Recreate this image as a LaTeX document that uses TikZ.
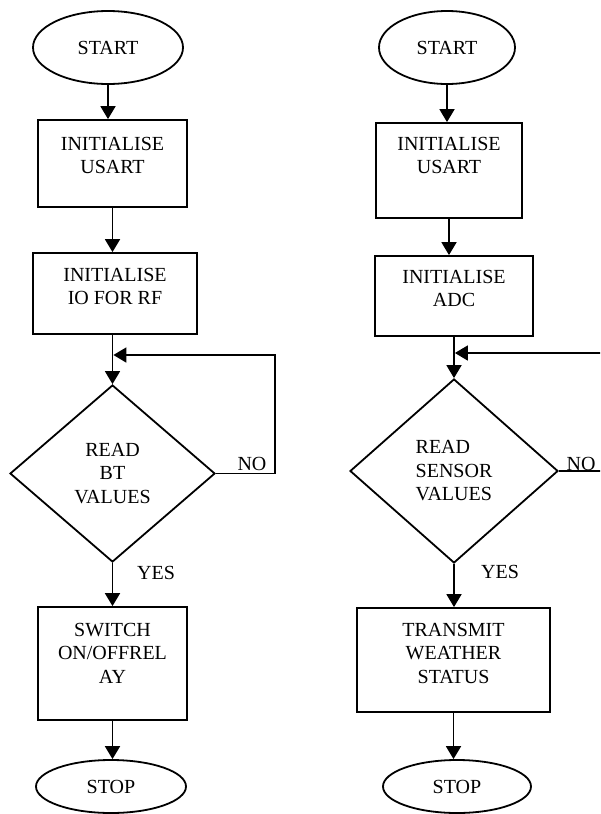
\documentclass[tikz,border=0pt]{standalone}
\usepackage{fontspec}
\setmainfont{Liberation Serif}
\usetikzlibrary{shapes,arrows.meta,positioning}

\begin{document}
\begin{tikzpicture}[x=1pt,y=-1pt,line width=1.8pt,
                    every node/.append style={font=\fontsize{20}{23.5}\selectfont},
                    term/.style={draw,ellipse,inner sep=0pt},
                    proc/.style={draw,rectangle,inner sep=0pt},
                    decide/.style={draw,diamond,inner sep=0pt},
                    intext/.style={anchor=north,align=center,inner sep=0pt,yshift=-#1},
                    intext/.default=15pt,
                    lbl/.style={inner sep=0pt},
                    arr/.style={-{Triangle[length=13pt,width=15pt]}}]
    \clip (0,0) rectangle (600,814);
    \node[term,minimum width=150pt,minimum height=73pt] (lstart) at (108,47.5) {START};
    \node[proc,minimum width=149pt,minimum height=87pt,
          label={[intext=17pt]north:{INITIALISE\\USART}}] (linit) at (112.5,163.5) {};
    \node[proc,minimum width=164pt,minimum height=81pt,
          label={[intext]north:{INITIALISE\\IO FOR RF}}] (lio) at (115,293.5) {};
    \node[decide,minimum width=205pt,minimum height=177pt,align=center] (lread) at (112.5,473.5) {READ\\BT\\VALUES};
    \node[proc,minimum width=149pt,minimum height=113pt,
          label={[intext=16pt]north:{SWITCH\\ON/OFFREL\\AY}}] (lsw) at (112.5,663.5) {};
    \node[term,minimum width=150pt,minimum height=53pt] (lstop) at (111,786.5) {STOP};
    \node[lbl] (lno) at (252,464) {NO};
    \node[lbl] (lyes) at (156,573) {YES};
    \coordinate (lloop) at (275,355);

    \node[term,minimum width=136pt,minimum height=73pt] (rstart) at (447,47.5) {START};
    \node[proc,minimum width=146pt,minimum height=95pt,
          label={[intext=14pt]north:{INITIALISE\\USART}}] (rinit) at (449,170.5) {};
    \node[proc,minimum width=158pt,minimum height=80pt,
          label={[intext=14pt]north:{INITIALISE\\ADC}}] (radc) at (454,296) {};
    \node[decide,minimum width=208pt,minimum height=184pt,align=left] (rread) at (454,471) {READ\\SENSOR\\VALUES};
    \node[proc,minimum width=193pt,minimum height=104pt,
          label={[intext]north:{TRANSMIT\\WEATHER\\STATUS}}] (rtx) at (453.5,660) {};
    \node[term,minimum width=148pt,minimum height=53pt] (rstop) at (457,786.5) {STOP};
    \node[lbl] (rno) at (581,464) {NO};
    \node[lbl] (ryes) at (500,572) {YES};
    \coordinate (rloop) at (612,353);

    \draw[arr] (lstart) -- (lstart |- linit.north);
    \draw[arr] (linit) -- (linit |- lio.north);
    \draw[arr] (lread.north |- lio.south) -- (lread);
    \draw[arr] (lread) -- (lread |- lsw.north);
    \draw[arr] (lsw) -- (lsw |- lstop.north);
    \draw[arr,shorten >=0.9pt] (lread.east) -| (lloop) -- (lloop -| lread);

    \draw[arr] (rstart) -- (rstart |- rinit.north);
    \draw[arr] (rinit) -- (rinit |- radc.north);
    \draw[arr] (rread.north |- radc.south) -- (rread);
    \draw[arr] (rread) -- (rread |- rtx.north);
    \draw[arr] (rtx) -- (rtx |- rstop.north);
    \draw[arr,shorten >=0.9pt] (rread.east) -| (rloop) -- (rloop -| rread);
\end{tikzpicture}
\end{document}
